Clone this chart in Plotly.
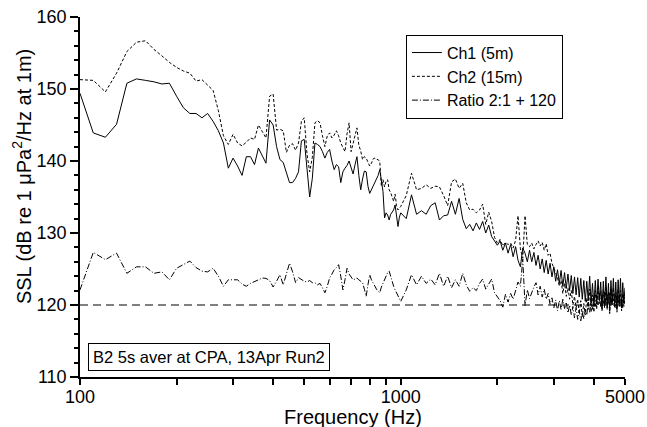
import plotly.graph_objects as go

# Frequency grid (Hz): FFT bins read at 10 Hz below 1 kHz, 40 Hz above
freq_low = list(range(100, 1000, 10))
freq_high = list(range(1000, 5001, 40))

ch1_low = [
    149.4, 143.9, 143.3, 145.1, 150.8, 151.4, 151.2, 151.0, 150.7, 150.8,
    149.0, 147.4, 146.6, 146.6, 146.0, 146.6, 145.5, 144.2, 142.5, 139.0,
    140.4, 139.3, 138.0, 140.6, 140.6, 139.5, 141.8, 140.8, 139.7, 145.7,
    145.0, 142.0, 140.2, 139.8, 138.5, 137.0, 137.0, 137.6, 138.5, 142.8,
    143.0, 138.5, 135.0, 137.6, 142.5, 142.3, 142.0, 141.3, 140.4, 141.2,
    141.6, 140.0, 138.8, 139.5, 139.2, 137.0, 138.5, 139.0, 139.4, 140.0,
    139.2, 138.2, 139.5, 140.6, 138.0, 136.0, 137.5, 138.6, 138.5, 136.5,
    135.5, 136.0, 136.5, 137.0, 137.4, 138.0, 138.8, 137.4, 135.8, 132.1,
    132.8, 132.5, 131.8, 132.6, 133.0, 133.2, 133.9, 132.5, 130.9, 132.2,
]
ch1_high = [
    132.8, 132.0, 135.3, 132.6, 133.1, 132.6, 133.8, 134.2, 131.8, 132.4,
    132.5, 134.4, 132.6, 134.8, 131.9, 130.6, 131.2, 130.3, 131.4, 130.5,
    131.6, 130.0, 131.1, 129.5, 128.9, 128.3, 128.9, 127.6, 128.6, 127.2,
    128.4, 126.7, 128.1, 126.2, 125.3, 127.9, 127.2, 126.0, 127.6, 126.0,
    127.3, 125.5, 126.9, 125.0, 126.4, 124.5, 126.2, 124.3, 125.8, 123.9,
    125.3, 123.3, 124.9, 123.0, 124.8, 122.6, 124.5, 122.3, 124.3, 122.0,
    124.1, 121.6, 123.9, 121.4, 123.8, 121.1, 123.7, 120.8, 123.4, 120.5,
    123.3, 120.6, 124.0, 120.2, 123.0, 119.8, 123.4, 120.1, 123.6, 120.6,
    123.2, 119.4, 123.3, 120.0, 123.9, 119.6, 123.0, 119.1, 123.4, 120.2,
    123.7, 119.8, 123.2, 119.4, 123.5, 120.1, 123.7, 119.6, 123.1, 120.2,
    122.4,
]

ch2_low = [
    151.3, 151.2, 149.6, 152.2, 155.2, 156.5, 156.7, 155.5, 154.6, 153.7,
    153.0, 152.5, 152.2, 151.1, 151.3, 150.5, 149.8, 147.0, 143.5, 142.3,
    143.7, 142.5, 142.1, 142.6, 143.2, 143.0, 145.0, 144.1, 143.2, 149.0,
    149.3, 144.3, 144.4, 144.2, 141.2, 142.2, 142.4, 141.5, 142.5, 145.5,
    146.0, 141.0, 138.5, 140.5, 145.3, 145.6, 145.3, 143.5, 142.0, 143.5,
    143.9, 143.2, 143.6, 144.2, 143.5, 142.5, 141.8, 141.3, 143.8, 145.3,
    141.3, 142.5, 143.6, 144.6, 142.2, 141.4, 140.2, 140.6, 140.4, 139.8,
    139.3, 139.7, 140.3, 140.4, 140.2, 140.2, 139.9, 136.5, 137.4, 136.4,
    137.2, 137.4, 136.0, 135.6, 135.0, 134.4, 135.4, 133.8, 133.2, 133.5,
]
ch2_high = [
    133.7, 135.2, 138.3, 136.0, 136.2, 136.7, 136.2, 136.5, 136.4, 135.2,
    133.8, 137.1, 137.5, 136.2, 136.9, 134.2, 133.2, 133.3, 132.8, 133.2,
    134.0, 131.2, 132.9, 131.6, 129.4, 128.6, 129.1, 128.2, 128.7, 128.4,
    128.6, 127.9, 129.0, 132.4, 127.8, 126.5, 132.4, 128.4, 128.1, 128.6,
    127.8, 128.4, 128.9, 128.2, 128.7, 127.6, 128.5, 126.9, 127.2, 125.8,
    125.2, 124.6, 123.8, 122.6, 123.4, 121.6, 123.0, 121.2, 122.4, 120.8,
    122.0, 120.0, 121.2, 119.6, 120.8, 118.8, 120.6, 118.4, 120.2, 118.6,
    121.0, 119.4, 122.2, 119.0, 121.4, 119.0, 122.0, 119.4, 122.4, 120.2,
    122.0, 119.2, 122.0, 119.6, 122.6, 119.4, 121.8, 118.8, 122.2, 120.0,
    122.4, 119.6, 121.8, 119.0, 122.2, 119.8, 122.0, 119.2, 121.6, 119.8,
    121.0,
]

ratio_low = [
    122.1, 127.3, 126.3, 127.2, 124.4, 125.3, 125.3, 124.4, 124.6, 123.5,
    125.1, 125.6, 126.1, 125.2, 124.7, 124.6, 125.1, 124.0, 122.6, 123.5,
    123.5, 123.5, 122.9, 122.6, 123.0, 123.3, 123.5, 123.75, 123.7, 123.4,
    122.5, 123.3, 124.2, 122.8, 124.5, 125.8, 124.6, 123.1, 123.8, 123.5,
    123.3, 123.2, 123.4, 123.1, 123.1, 122.8, 123.0, 122.4, 121.7, 122.6,
    123.75, 124.3, 124.9, 125.2, 125.6, 124.0, 122.1, 123.5, 125.1, 124.3,
    123.8, 123.5, 123.6, 123.75, 123.5, 123.3, 123.1, 122.2, 121.2, 122.8,
    124.2, 123.5, 123.0, 122.6, 122.2, 121.9, 121.7, 122.5, 123.0, 123.5,
    124.0, 124.5, 124.7, 124.0, 123.1, 122.6, 122.1, 121.7, 121.2, 120.8,
]
ratio_high = [
    120.5, 122.1, 124.2, 122.8, 124.0, 123.0, 123.6, 122.8, 124.4, 122.6,
    124.0, 122.4, 123.5, 122.6, 124.4, 122.8, 121.9, 122.4, 122.0, 123.0,
    123.6, 122.2, 123.0, 123.6, 121.7, 121.2, 120.6, 119.7, 121.5, 120.4,
    121.6, 120.8, 121.9, 123.2, 122.6, 126.4, 119.9, 122.1, 120.9, 121.8,
    122.5, 123.1, 121.4, 122.6, 121.1, 122.2, 120.8, 121.6, 120.1, 121.0,
    119.6, 120.7, 119.2, 120.6, 119.4, 120.8, 119.5, 120.4, 118.9, 120.0,
    118.6, 119.8, 118.2, 119.6, 118.0, 119.2, 117.8, 119.0, 118.1, 119.4,
    118.6, 120.4, 119.0, 120.8, 119.4, 121.2, 119.8, 121.4, 120.0, 121.6,
    119.8, 121.4, 120.2, 121.8, 120.0, 121.6, 120.2, 121.8, 119.8, 121.4,
    120.2, 121.6, 119.6, 121.2, 120.0, 121.4, 119.8, 121.0, 119.6, 121.2,
    120.4,
]

series_names = ["Ch1 (5m)", "Ch2 (15m)", "Ratio 2:1 + 120"]
x_tick_vals = [100, 1000, 5000]
x_tick_text = ["100", "1000", "5000"]
x_minor_vals = [200, 300, 400, 500, 600, 700, 800, 900, 2000, 3000, 4000]
ref_level = 120
note_text = "B2 5s aver at CPA, 13Apr Run2"


def join(xl, yl, xh, yh):
    n1 = min(len(xl), len(yl))
    n2 = min(len(xh), len(yh))
    return xl[:n1] + xh[:n2], yl[:n1] + yh[:n2]


FONT = "Liberation Sans, Arial, sans-serif"
fig = go.Figure()

x1, y1 = join(freq_low, ch1_low, freq_high, ch1_high)
x2, y2 = join(freq_low, ch2_low, freq_high, ch2_high)
x3, y3 = join(freq_low, ratio_low, freq_high, ratio_high)

fig.add_trace(go.Scatter(x=x1, y=y1, mode="lines", name=series_names[0],
                         line=dict(color="black", width=1)))
fig.add_trace(go.Scatter(x=x2, y=y2, mode="lines", name=series_names[1],
                         line=dict(color="black", width=1, dash="3px,2px")))
fig.add_trace(go.Scatter(x=x3, y=y3, mode="lines", name=series_names[2],
                         line=dict(color="black", width=1, dash="6px,2px,1px,2px")))

fig.add_shape(type="line", xref="paper", x0=0, x1=1, yref="y", y0=ref_level, y1=ref_level,
              line=dict(color="black", width=1, dash="8px,5px"), layer="below")

fig.update_layout(
    width=647, height=427,
    margin=dict(l=80, r=22, t=17, b=50),
    paper_bgcolor="white", plot_bgcolor="white",
    font=dict(family=FONT, color="black", size=18),
    legend=dict(x=0.598, y=0.951, xanchor="left", yanchor="top",
                bordercolor="black", borderwidth=1, bgcolor="white",
                font=dict(size=16, family=FONT), itemwidth=30,
                tracegroupgap=0),
    xaxis=dict(type="log", range=[2, 3.69897], tickmode="array",
               tickvals=x_tick_vals, ticktext=x_tick_text,
               ticks="outside", ticklen=6, tickwidth=1.5, tickcolor="black",
               showline=True, linecolor="black", linewidth=1.5,
               showgrid=False, zeroline=False, automargin=False,
               tickfont=dict(size=18), ticklabelstandoff=-3,
               minor=dict(tickmode="array", tickvals=x_minor_vals, ticks="outside",
                          ticklen=6, tickwidth=1.5, tickcolor="black", showgrid=False)),
    yaxis=dict(range=[110, 160], dtick=10, tick0=110,
               ticks="outside", ticklen=8, tickwidth=1.5, tickcolor="black",
               showline=True, linecolor="black", linewidth=1.5,
               showgrid=False, zeroline=False, automargin=False,
               tickfont=dict(size=18),
               minor=dict(dtick=2, ticks="outside", ticklen=4, tickwidth=1.5,
                          tickcolor="black", showgrid=False)),
)

fig.add_annotation(text="Frequency (Hz)", xref="paper", yref="paper", x=0.5, y=-0.112,
                   xanchor="center", yanchor="middle", showarrow=False,
                   font=dict(size=20, family=FONT))

fig.add_annotation(text="SSL (dB re 1 \u03bcPa<sup>2</sup>/Hz at 1m)", textangle=-90,
                   xref="paper", yref="paper", x=-0.106, y=0.556,
                   xanchor="center", yanchor="middle", showarrow=False,
                   font=dict(size=20, family=FONT))

fig.add_annotation(text=note_text, xref="paper", yref="paper", x=0.0147, y=0.055,
                   xanchor="left", yanchor="middle", showarrow=False,
                   bordercolor="black", borderwidth=1, borderpad=4, bgcolor="white",
                   font=dict(size=16.5, family=FONT))

fig.write_html("out.html")
